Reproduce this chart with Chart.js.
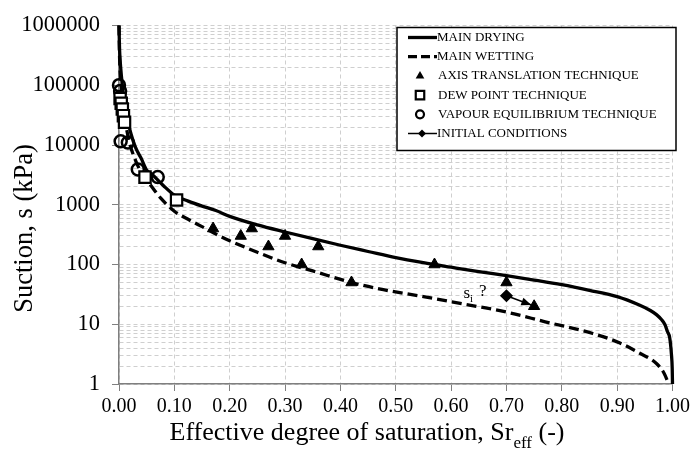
<!DOCTYPE html>
<html>
<head>
<meta charset="utf-8">
<script src="https://cdn.jsdelivr.net/npm/chart.js@4.4.1/dist/chart.umd.min.js"></script>
<style>
  body { margin: 0; background: #fff; }
</style>
</head>
<body>
<canvas id="myChart" width="694" height="453"></canvas>
<script>
// main drying curve (solid)
const dryingSr = [0.000, 0.001, 0.003, 0.006, 0.010, 0.016, 0.022, 0.030, 0.040, 0.050, 0.060, 0.080, 0.100, 0.125, 0.150, 0.175, 0.200, 0.250, 0.300, 0.350, 0.400, 0.450, 0.500, 0.550, 0.600, 0.650, 0.700, 0.750, 0.800, 0.850, 0.900, 0.940, 0.960, 0.971, 0.980, 0.986, 0.991, 0.995, 0.998, 0.9995, 1.000];
const dryingS  = [1000000, 400000, 200000, 100000, 50000, 25000, 15000, 9000, 6000, 3800, 3200, 2100, 1450, 1150, 950, 800, 640, 460, 350, 270, 210, 165, 130, 107, 90, 76, 65, 55, 46, 37, 29, 21, 17, 14.5, 12, 10, 7.5, 5.9, 3.2, 1.8, 1];

// main wetting curve (dashed)
const wettingSr = [0.000, 0.001, 0.003, 0.006, 0.010, 0.015, 0.020, 0.030, 0.040, 0.056, 0.075, 0.100, 0.128, 0.150, 0.182, 0.200, 0.250, 0.300, 0.350, 0.420, 0.470, 0.550, 0.620, 0.700, 0.770, 0.856, 0.904, 0.940, 0.971, 0.985, 0.993];
const wettingS  = [1000000, 300000, 130000, 60000, 30000, 16000, 10000, 5500, 3500, 2200, 1300, 780, 550, 430, 300, 250, 160, 107, 78, 50, 39, 29, 22, 16, 11, 7, 4.9, 3.3, 2.2, 1.5, 1];

// measured points
const axisSr = [0.17, 0.22, 0.24, 0.27, 0.30, 0.33, 0.36, 0.42, 0.57, 0.70, 0.75];
const axisS  = [400, 300, 400, 200, 300, 100, 200, 50, 100, 50, 20];

const dewSr = [0.002, 0.004, 0.006, 0.008, 0.010, 0.047, 0.104];
const dewS  = [60000, 50000, 40000, 31000, 24000, 2900, 1200];

const vapourSr = [0.000, 0.002, 0.003, 0.016, 0.034, 0.070];
const vapourS  = [100000, 80000, 11500, 11000, 3900, 2900];

const initialSr = [0.70, 0.745];
const initialS  = [30, 21];

const yDecades = [1, 10, 100, 1000, 10000, 100000, 1000000];
const legendLabels = ["MAIN DRYING", "MAIN WETTING", "AXIS TRANSLATION TECHNIQUE", "DEW POINT TECHNIQUE", "VAPOUR EQUILIBRIUM TECHNIQUE", "INITIAL CONDITIONS"];

const pts = (xs, ys) => xs.map((x, i) => ({ x: x, y: ys[i] }));
const isDecade = (v) => Math.abs(Math.log10(v) - Math.round(Math.log10(v))) < 1e-9;
const serif = "'Liberation Serif', 'Times New Roman', serif";

const overlay = {
  id: "overlay",
  afterDatasetsDraw(chart) {
    // arrow head for the initial conditions line
    const meta = chart.getDatasetMeta(5);
    const p0 = meta.data[0], p1 = meta.data[1];
    const a = Math.atan2(p1.y - p0.y, p1.x - p0.x);
    const ctx = chart.ctx;
    ctx.save();
    ctx.fillStyle = "#000";
    ctx.beginPath();
    ctx.moveTo(p1.x, p1.y);
    ctx.lineTo(p1.x - 10 * Math.cos(a) + 4 * Math.sin(a), p1.y - 10 * Math.sin(a) - 4 * Math.cos(a));
    ctx.lineTo(p1.x - 10 * Math.cos(a) - 4 * Math.sin(a), p1.y - 10 * Math.sin(a) + 4 * Math.cos(a));
    ctx.closePath();
    ctx.fill();
    ctx.restore();
  },
  afterDraw(chart) {
    const ctx = chart.ctx;
    const ca = chart.chartArea;
    const xs = chart.scales.x, ys = chart.scales.y;
    ctx.save();
    ctx.fillStyle = "#000";

    // y title
    ctx.save();
    ctx.translate(25, ca.top + 203);
    ctx.rotate(-Math.PI / 2);
    ctx.font = "26.5px " + serif;
    ctx.textAlign = "center";
    ctx.textBaseline = "middle";
    ctx.fillText("Suction, s (kPa)", 0, 0);
    ctx.restore();

    // x title with subscript
    const big = "26px " + serif, small = "17px " + serif;
    const t1 = "Effective degree of saturation, Sr", t2 = "eff", t3 = " (-)";
    ctx.font = big; const w1 = ctx.measureText(t1).width, w3 = ctx.measureText(t3).width;
    ctx.font = small; const w2 = ctx.measureText(t2).width;
    let tx = ca.left + 248 - (w1 + w2 + w3) / 2;
    const tb = ca.bottom + 56;
    ctx.textAlign = "left";
    ctx.textBaseline = "alphabetic";
    ctx.font = big; ctx.fillText(t1, tx, tb); tx += w1;
    ctx.font = small; ctx.fillText(t2, tx, tb + 8); tx += w2;
    ctx.font = big; ctx.fillText(t3, tx, tb);

    // s_i ? annotation
    const ax = xs.getPixelForValue(initialSr[0]) - 43;
    const ay = ys.getPixelForValue(initialS[0]) + 2;
    ctx.font = "17px " + serif;
    ctx.fillText("s", ax, ay);
    const sw = ctx.measureText("s").width;
    ctx.font = "11px " + serif;
    ctx.fillText("i", ax + sw, ay + 4);
    ctx.font = "17px " + serif;
    ctx.fillText("?", ax + sw + 9, ay - 2);

    // legend box
    const L = { x: ca.left + 278, y: ca.top + 2, w: 279, h: 123 };
    ctx.fillStyle = "#fff";
    ctx.fillRect(L.x, L.y, L.w, L.h);
    ctx.strokeStyle = "#000";
    ctx.lineWidth = 1.5;
    ctx.strokeRect(L.x, L.y, L.w, L.h);
    ctx.font = "13px " + serif;
    ctx.textBaseline = "middle";
    legendLabels.forEach((lab, i) => {
      const ry = L.y + 10 + i * 19.2;
      const sx = L.x + 11, ex = L.x + 40;
      ctx.strokeStyle = "#000";
      ctx.fillStyle = "#000";
      ctx.setLineDash([]);
      if (i === 0 || i === 1 || i === 5) {
        ctx.lineWidth = i === 5 ? 1.5 : 3.3;
        if (i === 1) ctx.setLineDash([9, 4]);
        ctx.beginPath(); ctx.moveTo(sx, ry); ctx.lineTo(ex, ry); ctx.stroke();
        ctx.setLineDash([]);
        if (i === 5) Chart.helpers.drawPoint(ctx, { pointStyle: "rectRot", radius: 4, rotation: 0, borderWidth: 0 }, sx + 14, ry);
      } else if (i === 2) {
        Chart.helpers.drawPoint(ctx, { pointStyle: "triangle", radius: 5, rotation: 0, borderWidth: 0 }, sx + 12, ry);
      } else if (i === 3) {
        ctx.fillStyle = "#fff"; ctx.lineWidth = 2.2;
        Chart.helpers.drawPoint(ctx, { pointStyle: "rect", radius: 6, rotation: 0, borderWidth: 2.2 }, sx + 12, ry);
      } else {
        ctx.fillStyle = "#fff"; ctx.lineWidth = 2.2;
        Chart.helpers.drawPoint(ctx, { pointStyle: "circle", radius: 4, rotation: 0, borderWidth: 2.2 }, sx + 12, ry);
      }
      ctx.fillStyle = "#000";
      ctx.fillText(lab, L.x + (i === 0 || i === 1 || i === 5 ? 40 : 41), ry);
    });
    ctx.restore();
  }
};

const ctx = document.getElementById("myChart");

new Chart(ctx, {
  type: "scatter",
  data: {
    datasets: [
      {
        label: legendLabels[0],
        data: pts(dryingSr, dryingS),
        showLine: true,
        borderColor: "#000",
        borderWidth: 3.3,
        pointRadius: 0,
        cubicInterpolationMode: "monotone",
        clip: false,
        order: 3,
      },
      {
        label: legendLabels[1],
        data: pts(wettingSr, wettingS),
        showLine: true,
        borderColor: "#000",
        borderWidth: 3.3,
        borderDash: [10, 5],
        pointRadius: 0,
        cubicInterpolationMode: "monotone",
        clip: false,
        order: 3,
      },
      {
        label: legendLabels[2],
        data: pts(axisSr, axisS),
        pointStyle: "triangle",
        pointRadius: 6.5,
        backgroundColor: "#000",
        borderColor: "#000",
        borderWidth: 1,
        clip: false,
        order: 1,
      },
      {
        label: legendLabels[3],
        data: pts(dewSr, dewS),
        pointStyle: "rect",
        pointRadius: 8,
        backgroundColor: "#fff",
        borderColor: "#000",
        borderWidth: 2.2,
        clip: false,
        order: 2,
      },
      {
        label: legendLabels[4],
        data: pts(vapourSr, vapourS),
        pointStyle: "circle",
        pointRadius: 6,
        backgroundColor: "rgba(255,255,255,0)",
        borderColor: "#000",
        borderWidth: 2.5,
        clip: false,
        order: 2,
      },
      {
        label: legendLabels[5],
        data: pts(initialSr, initialS),
        showLine: true,
        borderColor: "#000",
        borderWidth: 1.5,
        pointStyle: "rectRot",
        pointRadius: [5.5, 0],
        backgroundColor: "#000",
        clip: false,
        order: 0,
      },
    ],
  },
  options: {
    responsive: false,
    animation: false,
    devicePixelRatio: 1,
    layout: { padding: { top: 18, right: 21, left: 0, bottom: 0 } },
    plugins: {
      legend: { display: false },
      tooltip: { enabled: false },
    },
    scales: {
      x: {
        type: "linear",
        min: 0,
        max: 1,
        afterFit: (s) => { s.height = 69; },
        ticks: {
          stepSize: 0.1,
          padding: 4,
          color: "#000",
          font: { family: serif, size: 20 },
          callback: (v) => v.toFixed(2),
        },
        grid: { color: "#cfcfcf", tickColor: "#808080", tickLength: 7 },
        border: { color: "#7f7f7f", width: 1.5, dash: [4, 3] },
      },
      y: {
        type: "logarithmic",
        min: 1,
        max: 1000000,
        afterFit: (s) => { s.width = 119; },
        afterBuildTicks: (s) => {
          const t = [];
          for (let k = 0; k < 6; k++) {
            for (let m = 1; m < 10; m++) t.push({ value: m * Math.pow(10, k) });
          }
          t.push({ value: 1000000 });
          s.ticks = t;
        },
        ticks: {
          autoSkip: false,
          padding: 12,
          color: "#000",
          font: { family: serif, size: 22.5 },
          callback: (v) => (yDecades.some((d) => Math.abs(d - v) < 1e-6 * d) ? String(v) : ""),
        },
        grid: {
          color: "#cfcfcf",
          tickLength: 7,
          tickColor: (c) => (c.tick && isDecade(c.tick.value) ? "#808080" : "rgba(0,0,0,0)"),
        },
        border: { color: "#7f7f7f", width: 1.5, dash: [4, 3] },
      },
    },
  },
  plugins: [overlay],
});
</script>
</body>
</html>
